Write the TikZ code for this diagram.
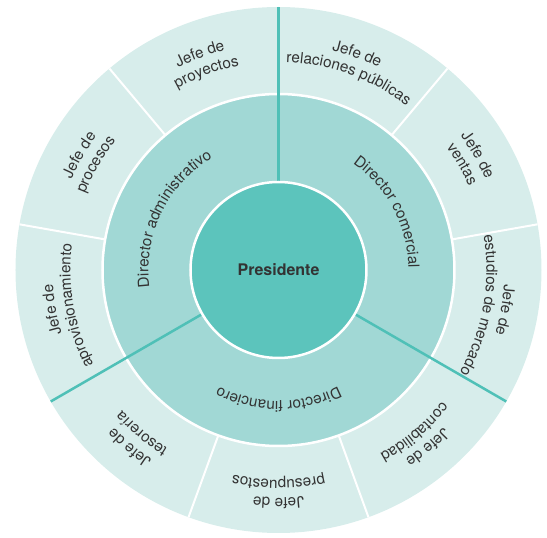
\documentclass[tikz,border=0pt]{standalone}
\usepackage{fontspec}
\setmainfont{TeX Gyre Heros}
\usetikzlibrary{decorations.text}

\definecolor{anilloext}{HTML}{D7EDEB}
\definecolor{anillomed}{HTML}{A1D8D5}
\definecolor{anilloint}{HTML}{5CC4BC}
\definecolor{ramaverde}{HTML}{4FC0B7}
\definecolor{textogris}{HTML}{333333}

\newcommand{\etiqfont}{\fontsize{15.3}{18}\selectfont}

\tikzset{
	etiqueta/.style={decorate, decoration={text along path, text align=center, text color=textogris, text={|\etiqfont|#1}}},
	borde/.style={draw=white, line width=2.5pt},
	separador/.style={draw=white, line width=2pt},
	rama/.style={draw=ramaverde, line width=2.5pt}
}

\begin{document}
\begin{tikzpicture}
		\useasboundingbox (-278.5pt,-268pt) rectangle (268.5pt,270pt);

		\fill[anilloext] (0,0) circle[radius=263pt];
		\fill[anillomed] (0,0) circle[radius=176pt];
		\draw[borde] (0,0) circle[radius=176pt];

		\draw[separador] (130:176pt) -- (130:263pt);
		\draw[separador] (50:176pt) -- (50:263pt);
		\draw[separador] (10:176pt) -- (10:263pt);
		\draw[separador] (-70:176pt) -- (-70:263pt);
		\draw[separador] (-110:176pt) -- (-110:263pt);
		\draw[separador] (170:176pt) -- (170:263pt);

		\draw[rama] (90:88pt) -- (90:263pt);
		\draw[rama] (210:88pt) -- (210:263pt);
		\draw[rama] (-30:88pt) -- (-30:263pt);

		\draw[borde, fill=anilloint] (0,0) circle[radius=88pt];
		\draw (0,0) node[text=textogris, font=\fontsize{16}{19}\selectfont\bfseries] (presidente) {Presidente};

		% directores
		\path[etiqueta={Director administrativo}] (214:130pt) arc[start angle=214, end angle=94, radius=130pt];
		\path[etiqueta={Director comercial}] (88:130pt) arc[start angle=88, end angle=-32, radius=130pt];
		\path[etiqueta={Director financiero}] (330:131pt) arc[start angle=330, end angle=210, radius=131pt];

		% jefes
		\path[etiqueta={Jefe de}] (170:226pt) arc[start angle=170, end angle=50, radius=226pt];
		\path[etiqueta={proyectos}] (170:208pt) arc[start angle=170, end angle=50, radius=208pt];

		\path[etiqueta={Jefe de}] (130:226pt) arc[start angle=130, end angle=10, radius=226pt];
		\path[etiqueta={relaciones públicas}] (130:208pt) arc[start angle=130, end angle=10, radius=208pt];

		\path[etiqueta={Jefe de}] (90:226pt) arc[start angle=90, end angle=-30, radius=226pt];
		\path[etiqueta={ventas}] (90:208pt) arc[start angle=90, end angle=-30, radius=208pt];

		\path[etiqueta={Jefe de}] (50:226pt) arc[start angle=50, end angle=-70, radius=226pt];
		\path[etiqueta={estudios de mercado}] (50:208pt) arc[start angle=50, end angle=-70, radius=208pt];

		\path[etiqueta={Jefe de}] (10:228pt) arc[start angle=10, end angle=-110, radius=228pt];
		\path[etiqueta={contabilidad}] (10:210pt) arc[start angle=10, end angle=-110, radius=210pt];

		\path[etiqueta={Jefe de}] (-30:228pt) arc[start angle=-30, end angle=-150, radius=228pt];
		\path[etiqueta={presupuestos}] (-30:210pt) arc[start angle=-30, end angle=-150, radius=210pt];

		\path[etiqueta={Jefe de}] (-70:228pt) arc[start angle=-70, end angle=-190, radius=228pt];
		\path[etiqueta={tesorería}] (-70:210pt) arc[start angle=-70, end angle=-190, radius=210pt];

		\path[etiqueta={Jefe de}] (250:226pt) arc[start angle=250, end angle=130, radius=226pt];
		\path[etiqueta={aprovisionamiento}] (250:208pt) arc[start angle=250, end angle=130, radius=208pt];

		\path[etiqueta={Jefe de}] (210:226pt) arc[start angle=210, end angle=90, radius=226pt];
		\path[etiqueta={procesos}] (210:208pt) arc[start angle=210, end angle=90, radius=208pt];

	\end{tikzpicture}
\end{document}
